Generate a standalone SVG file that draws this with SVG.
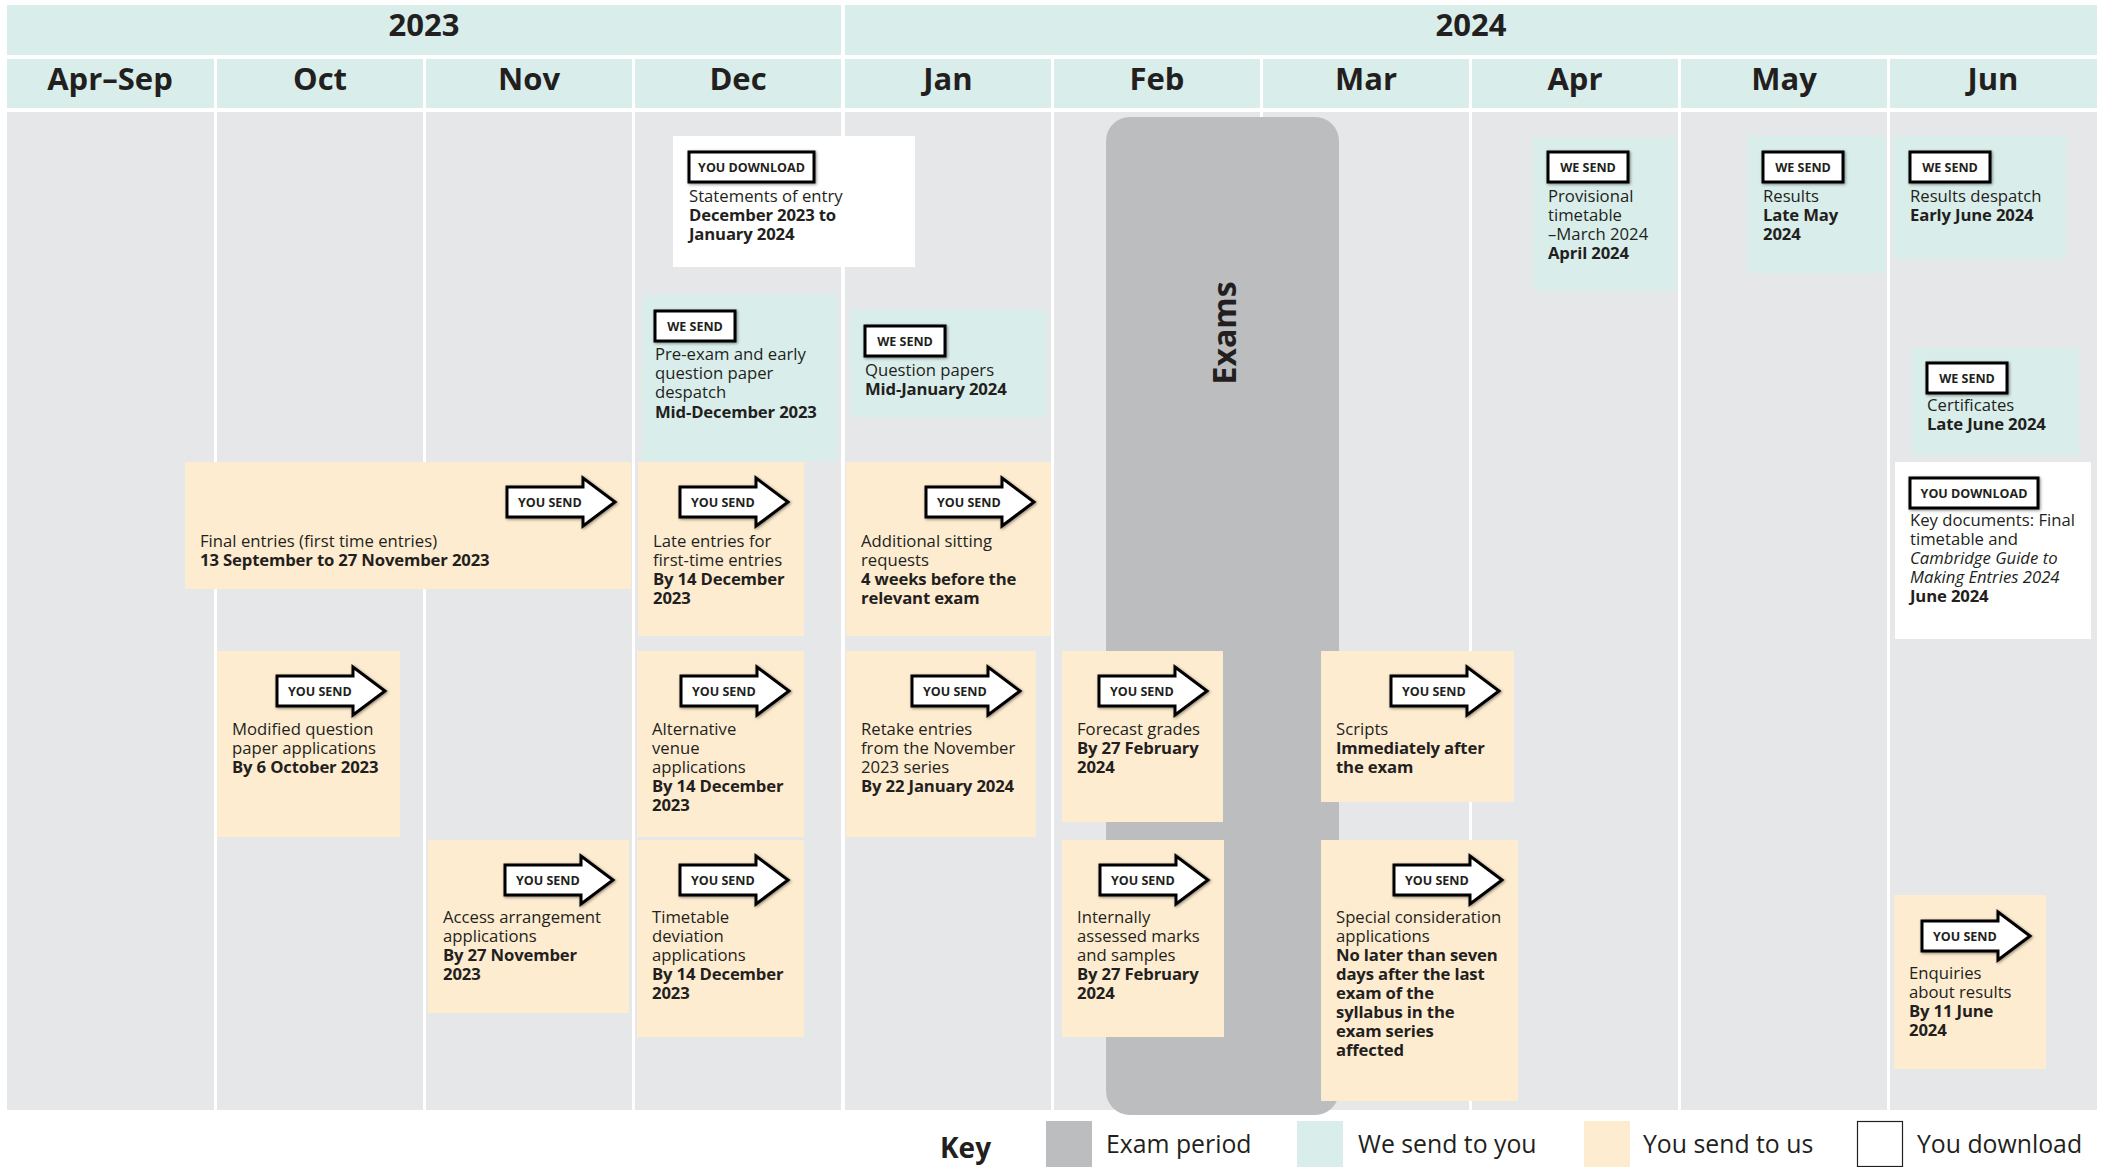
<svg xmlns="http://www.w3.org/2000/svg" xmlns:xlink="http://www.w3.org/1999/xlink" width="2105" height="1167" viewBox="0 0 2105 1167">
<style>
text{font-family:"Open Sans","Liberation Sans",sans-serif;fill:#231f20}
.t{font-size:16.7px}
.b{font-weight:700;letter-spacing:-0.15px}
.i{font-style:italic}
.h{font-size:31px;font-weight:700;text-anchor:middle}
.bt{font-size:12.5px;font-weight:700;text-anchor:middle}
.at{font-size:12.5px;font-weight:700}
.teal{fill:#d9eeeb}
.cream{fill:#feecd0}
.wht{fill:#ffffff}
.col{fill:#e6e7e8}
.badge{fill:#ffffff;stroke:#000;stroke-width:3;filter:url(#sh)}
.arrow{fill:#ffffff;stroke:#000;stroke-width:3;stroke-linejoin:miter;filter:url(#sh)}
.key{font-size:24.8px}
</style>
<defs>
<filter id="sh" x="-20%" y="-30%" width="140%" height="160%">
<feDropShadow dx="1" dy="1" stdDeviation="1.6" flood-color="#000" flood-opacity="0.45"/>
</filter>
<path id="arr" d="M0,0 H76 V-9 L108,15 L76,39 V30 H0 Z"/>
</defs>
<rect width="2105" height="1167" fill="#fff"/>
<g id="grid">
<rect class="teal" x="7" y="5" width="834" height="50"/>
<rect class="teal" x="845" y="5" width="1252" height="50"/>
<text class="h" x="424" y="36">2023</text>
<text class="h" x="1471" y="36">2024</text>
<g>
<rect class="teal" x="7" y="59" width="207" height="49"/>
<rect class="teal" x="217" y="59" width="206" height="49"/>
<rect class="teal" x="426" y="59" width="206" height="49"/>
<rect class="teal" x="635" y="59" width="206" height="49"/>
<rect class="teal" x="845" y="59" width="206" height="49"/>
<rect class="teal" x="1054" y="59" width="206" height="49"/>
<rect class="teal" x="1263" y="59" width="206" height="49"/>
<rect class="teal" x="1472" y="59" width="206" height="49"/>
<rect class="teal" x="1681" y="59" width="206" height="49"/>
<rect class="teal" x="1890" y="59" width="207" height="49"/>
</g>
<text class="h" x="110" y="90">Apr–Sep</text>
<text class="h" x="320" y="90">Oct</text>
<text class="h" x="529" y="90">Nov</text>
<text class="h" x="738" y="90">Dec</text>
<text class="h" x="948" y="90">Jan</text>
<text class="h" x="1157" y="90">Feb</text>
<text class="h" x="1366" y="90">Mar</text>
<text class="h" x="1575" y="90">Apr</text>
<text class="h" x="1784" y="90">May</text>
<text class="h" x="1993" y="90">Jun</text>
<g>
<rect class="col" x="7" y="112" width="207" height="998"/>
<rect class="col" x="217" y="112" width="206" height="998"/>
<rect class="col" x="426" y="112" width="206" height="998"/>
<rect class="col" x="635" y="112" width="206" height="998"/>
<rect class="col" x="845" y="112" width="206" height="998"/>
<rect class="col" x="1054" y="112" width="206" height="998"/>
<rect class="col" x="1263" y="112" width="206" height="998"/>
<rect class="col" x="1472" y="112" width="206" height="998"/>
<rect class="col" x="1681" y="112" width="206" height="998"/>
<rect class="col" x="1890" y="112" width="207" height="998"/>
</g>
</g>
<g id="exams">
<rect x="1106" y="117" width="233" height="998" rx="24" fill="#bcbdbf"/>
<text transform="translate(1236,333) rotate(-90)" style="font-size:32px;font-weight:700;text-anchor:middle">Exams</text>
</g>
<g id="connectors"></g>

<g id="statements-of-entry">
<rect class="wht" x="673" y="136" width="242" height="131"/>
<rect class="badge" x="689" y="152" width="125" height="30"/>
<text class="bt" x="751.5" y="172">YOU DOWNLOAD</text>
<text class="t" x="689" y="202">Statements of entry</text>
<text class="t b" x="689" y="221">December 2023 to</text>
<text class="t b" x="689" y="240">January 2024</text>
</g>

<g id="pre-exam-despatch">
<rect class="teal" x="642" y="295" width="196" height="166"/>
<rect class="badge" x="655" y="311" width="80" height="30"/>
<text class="bt" x="695" y="331">WE SEND</text>
<text class="t" x="655" y="360">Pre-exam and early</text>
<text class="t" x="655" y="379">question paper</text>
<text class="t" x="655" y="398">despatch</text>
<text class="t b" x="655" y="418">Mid-December 2023</text>
</g>

<g id="question-papers">
<rect class="teal" x="850" y="310" width="197" height="107"/>
<rect class="badge" x="865" y="326" width="80" height="30"/>
<text class="bt" x="905" y="346">WE SEND</text>
<text class="t" x="865" y="376">Question papers</text>
<text class="t b" x="865" y="395">Mid-January 2024</text>
</g>

<g id="provisional-timetable">
<rect class="teal" x="1533" y="137" width="144" height="154"/>
<rect class="badge" x="1548" y="152" width="80" height="30"/>
<text class="bt" x="1588" y="172">WE SEND</text>
<text class="t" x="1548" y="202">Provisional</text>
<text class="t" x="1548" y="221">timetable</text>
<text class="t" x="1548" y="240">–March 2024</text>
<text class="t b" x="1548" y="259">April 2024</text>
</g>

<g id="results">
<rect class="teal" x="1747" y="136" width="139" height="137"/>
<rect class="badge" x="1763" y="152" width="80" height="30"/>
<text class="bt" x="1803" y="172">WE SEND</text>
<text class="t" x="1763" y="202">Results</text>
<text class="t b" x="1763" y="221">Late May</text>
<text class="t b" x="1763" y="240">2024</text>
</g>

<g id="results-despatch">
<rect class="teal" x="1894" y="136" width="172" height="123"/>
<rect class="badge" x="1910" y="152" width="80" height="30"/>
<text class="bt" x="1950" y="172">WE SEND</text>
<text class="t" x="1910" y="202">Results despatch</text>
<text class="t b" x="1910" y="221">Early June 2024</text>
</g>

<g id="certificates">
<rect class="teal" x="1911" y="348" width="168" height="107"/>
<rect class="badge" x="1927" y="363" width="80" height="30"/>
<text class="bt" x="1967" y="383">WE SEND</text>
<text class="t" x="1927" y="411">Certificates</text>
<text class="t b" x="1927" y="430">Late June 2024</text>
</g>

<g id="key-documents">
<rect class="wht" x="1895" y="462" width="196" height="177"/>
<rect class="badge" x="1910" y="478" width="128" height="30"/>
<text class="bt" x="1974" y="498">YOU DOWNLOAD</text>
<text class="t" x="1910" y="526">Key documents: Final</text>
<text class="t" x="1910" y="545">timetable and</text>
<text class="t i" x="1910" y="564">Cambridge Guide to</text>
<text class="t i" x="1910" y="583">Making Entries 2024</text>
<text class="t b" x="1910" y="602">June 2024</text>
</g>

<g id="final-entries">
<rect class="cream" x="185" y="462" width="446" height="127"/>
<use href="#arr" class="arrow" x="507" y="487"/>
<text class="at" x="518" y="507">YOU SEND</text>
<text class="t" x="200" y="547">Final entries (first time entries)</text>
<text class="t b" x="200" y="566">13 September to 27 November 2023</text>
</g>

<g id="late-entries">
<rect class="cream" x="638" y="462" width="166" height="174"/>
<use href="#arr" class="arrow" x="680" y="487"/>
<text class="at" x="691" y="507">YOU SEND</text>
<text class="t" x="653" y="547">Late entries for</text>
<text class="t" x="653" y="566">first-time entries</text>
<text class="t b" x="653" y="585">By 14 December</text>
<text class="t b" x="653" y="604">2023</text>
</g>

<g id="additional-sitting">
<rect class="cream" x="846" y="462" width="205" height="174"/>
<use href="#arr" class="arrow" x="926" y="487"/>
<text class="at" x="937" y="507">YOU SEND</text>
<text class="t" x="861" y="547">Additional sitting</text>
<text class="t" x="861" y="566">requests</text>
<text class="t b" x="861" y="585">4 weeks before the</text>
<text class="t b" x="861" y="604">relevant exam</text>
</g>

<g id="modified-question-paper">
<rect class="cream" x="217" y="651" width="183" height="186"/>
<use href="#arr" class="arrow" x="277" y="676"/>
<text class="at" x="288" y="696">YOU SEND</text>
<text class="t" x="232" y="735">Modified question</text>
<text class="t" x="232" y="754">paper applications</text>
<text class="t b" x="232" y="773">By 6 October 2023</text>
</g>

<g id="alternative-venue">
<rect class="cream" x="637" y="651" width="167" height="186"/>
<use href="#arr" class="arrow" x="681" y="676"/>
<text class="at" x="692" y="696">YOU SEND</text>
<text class="t" x="652" y="735">Alternative</text>
<text class="t" x="652" y="754">venue</text>
<text class="t" x="652" y="773">applications</text>
<text class="t b" x="652" y="792">By 14 December</text>
<text class="t b" x="652" y="811">2023</text>
</g>

<g id="retake-entries">
<rect class="cream" x="846" y="651" width="190" height="186"/>
<use href="#arr" class="arrow" x="912" y="676"/>
<text class="at" x="923" y="696">YOU SEND</text>
<text class="t" x="861" y="735">Retake entries</text>
<text class="t" x="861" y="754">from the November</text>
<text class="t" x="861" y="773">2023 series</text>
<text class="t b" x="861" y="792">By 22 January 2024</text>
</g>

<g id="forecast-grades">
<rect class="cream" x="1062" y="651" width="161" height="171"/>
<use href="#arr" class="arrow" x="1099" y="676"/>
<text class="at" x="1110" y="696">YOU SEND</text>
<text class="t" x="1077" y="735">Forecast grades</text>
<text class="t b" x="1077" y="754">By 27 February</text>
<text class="t b" x="1077" y="773">2024</text>
</g>

<g id="scripts">
<rect class="cream" x="1321" y="651" width="193" height="151"/>
<use href="#arr" class="arrow" x="1391" y="676"/>
<text class="at" x="1402" y="696">YOU SEND</text>
<text class="t" x="1336" y="735">Scripts</text>
<text class="t b" x="1336" y="754">Immediately after</text>
<text class="t b" x="1336" y="773">the exam</text>
</g>

<g id="access-arrangement">
<rect class="cream" x="428" y="840" width="201" height="173"/>
<use href="#arr" class="arrow" x="505" y="865"/>
<text class="at" x="516" y="885">YOU SEND</text>
<text class="t" x="443" y="923">Access arrangement</text>
<text class="t" x="443" y="942">applications</text>
<text class="t b" x="443" y="961">By 27 November</text>
<text class="t b" x="443" y="980">2023</text>
</g>

<g id="timetable-deviation">
<rect class="cream" x="637" y="840" width="167" height="197"/>
<use href="#arr" class="arrow" x="680" y="865"/>
<text class="at" x="691" y="885">YOU SEND</text>
<text class="t" x="652" y="923">Timetable</text>
<text class="t" x="652" y="942">deviation</text>
<text class="t" x="652" y="961">applications</text>
<text class="t b" x="652" y="980">By 14 December</text>
<text class="t b" x="652" y="999">2023</text>
</g>

<g id="internally-assessed">
<rect class="cream" x="1062" y="840" width="162" height="197"/>
<use href="#arr" class="arrow" x="1100" y="865"/>
<text class="at" x="1111" y="885">YOU SEND</text>
<text class="t" x="1077" y="923">Internally</text>
<text class="t" x="1077" y="942">assessed marks</text>
<text class="t" x="1077" y="961">and samples</text>
<text class="t b" x="1077" y="980">By 27 February</text>
<text class="t b" x="1077" y="999">2024</text>
</g>

<g id="special-consideration">
<rect class="cream" x="1321" y="840" width="197" height="261"/>
<use href="#arr" class="arrow" x="1394" y="865"/>
<text class="at" x="1405" y="885">YOU SEND</text>
<text class="t" x="1336" y="923">Special consideration</text>
<text class="t" x="1336" y="942">applications</text>
<text class="t b" x="1336" y="961">No later than seven</text>
<text class="t b" x="1336" y="980">days after the last</text>
<text class="t b" x="1336" y="999">exam of the</text>
<text class="t b" x="1336" y="1018">syllabus in the</text>
<text class="t b" x="1336" y="1037">exam series</text>
<text class="t b" x="1336" y="1056">affected</text>
</g>

<g id="enquiries-about-results">
<rect class="cream" x="1894" y="895" width="152" height="174"/>
<use href="#arr" class="arrow" x="1922" y="921"/>
<text class="at" x="1933" y="941">YOU SEND</text>
<text class="t" x="1909" y="979">Enquiries</text>
<text class="t" x="1909" y="998">about results</text>
<text class="t b" x="1909" y="1017">By 11 June</text>
<text class="t b" x="1909" y="1036">2024</text>
</g>

<g id="key">
<text x="940" y="1158" style="font-size:28px;font-weight:700">Key</text>
<rect x="1046" y="1121" width="46" height="46" fill="#bcbdbf"/>
<text class="key" x="1106" y="1153">Exam period</text>
<rect class="teal" x="1297" y="1121" width="46" height="46"/>
<text class="key" x="1358" y="1153">We send to you</text>
<rect class="cream" x="1584" y="1121" width="46" height="46"/>
<text class="key" x="1643" y="1153">You send to us</text>
<rect x="1857.5" y="1121.5" width="45" height="45" fill="#fff" stroke="#231f20" stroke-width="1.2"/>
<text class="key" x="1917" y="1153">You download</text>
</g>
</svg>
